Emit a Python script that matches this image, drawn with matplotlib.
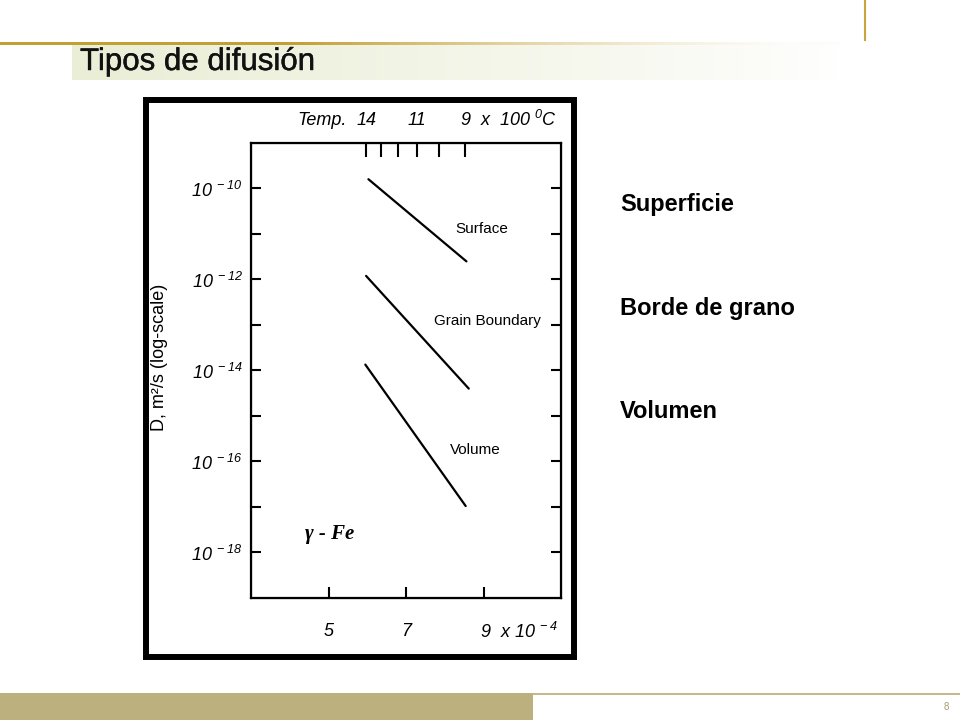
import numpy as np
import matplotlib
matplotlib.use('Agg')
import matplotlib.pyplot as plt
import matplotlib.patheffects as pe
from matplotlib.patches import Rectangle
from matplotlib.lines import Line2D
from matplotlib.ticker import FixedLocator, NullLocator

plt.rcParams['font.family'] = ['Liberation Sans', 'DejaVu Sans']
# all mathtext on this chart is the italic tick lettering of the scan
plt.rcParams['mathtext.fontset'] = 'custom'
plt.rcParams['mathtext.rm'] = 'Liberation Sans:italic'
plt.rcParams['mathtext.it'] = 'Liberation Sans:italic'

# x = 1/T in units of 1e-4 K^-1, D in m2/s
surface_x = [6.03, 8.56]
surface_D = [1.6e-10, 2.5e-12]
gb_x = [5.97, 8.62]
gb_D = [1.2e-12, 4.0e-15]
volume_x = [5.95, 8.54]
volume_D = [1.35e-14, 1.05e-17]

series_names = ['Surface', 'Grain Boundary', 'Volume']
side_labels = ['Superficie', 'Borde de grano', 'Volumen']

ytick_exp = list(range(-10, -19, -1))
ylabel_exp = [-10, -12, -14, -16, -18]
xtick_vals = [5, 7, 9]
temp_ticks_C = [1400, 1300, 1200, 1100, 1000, 900]
temp_labels = {1400: '14', 1100: '11'}

W, H = 960, 720


def fx(px):
    return px / W


def fy(py):
    return 1 - py / H


fig = plt.figure(figsize=(9.6, 7.2), dpi=100)

# slide decoration
fig.add_artist(Line2D([fx(865), fx(865)], [fy(0), fy(40)], transform=fig.transFigure,
                      color='#c9a43c', lw=1.5))

t = np.linspace(0, 1, 300)
gold = np.array([196, 160, 52]) / 255
a = np.where(t < 0.35, 1.0, np.clip(1 - (t - 0.35) / 0.65, 0.08, 1) ** 1.5)
grad = gold[None, :] * a[:, None] + (1 - a[:, None])
ax_g = fig.add_axes([0, fy(45), fx(840), 3 / H])
ax_g.imshow(grad[None, :, :], aspect='auto')
ax_g.axis('off')

band = np.array([234, 238, 214]) / 255
a2 = np.clip(1 - t, 0, 1) ** 0.8
grad2 = band[None, :] * a2[:, None] + (1 - a2[:, None])
ax_t = fig.add_axes([fx(72), fy(80), fx(840 - 72), 35 / H])
ax_t.imshow(grad2[None, :, :], aspect='auto')
ax_t.axis('off')

fig.text(fx(80), fy(62), 'Tipos de difusión', fontsize=22.5, va='center', color='#111111',
         path_effects=[pe.withStroke(linewidth=0.3, foreground='#111111')])

fig.add_artist(Rectangle((0, 0), fx(533), 27 / H, transform=fig.transFigure,
                         color='#bdb07f', lw=0))
fig.add_artist(Rectangle((fx(533), fy(695)), fx(427), 2 / H, transform=fig.transFigure,
                         color='#c4b98c', lw=0))
fig.text(fx(946), fy(707), '8', fontsize=7, color='#a89c70', ha='center', va='center')

# black frame around the scanned figure
fig.add_artist(Rectangle((fx(146), fy(657)), fx(574 - 146), (657 - 100) / H,
                         transform=fig.transFigure, fill=False, lw=4.3, edgecolor='black'))

# chart
ax = fig.add_axes([fx(251), fy(598), fx(310), 455 / H])
ax.set_yscale('log')
ax.set_xlim(3, 11)
ax.set_ylim(1e-19, 1e-9)

for xs, ds in [(surface_x, surface_D), (gb_x, gb_D), (volume_x, volume_D)]:
    ax.plot(xs, ds, color='black', lw=1.6, solid_capstyle='round')

for sp in ax.spines.values():
    sp.set_linewidth(1.6)

ax.yaxis.set_major_locator(FixedLocator([10.0 ** e for e in ytick_exp]))
ax.yaxis.set_minor_locator(NullLocator())
ax.set_yticklabels([r'$10^{\ -%d}$' % (-e) if e in ylabel_exp else '' for e in ytick_exp],
                   fontsize=13)
ax.tick_params(axis='y', which='major', direction='in', length=7, width=1.5,
               left=True, right=True, pad=6)

ax.set_xticks(xtick_vals)
ax.set_xticklabels(['5', '7', ''], fontsize=13, fontstyle='italic')
ax.tick_params(axis='x', direction='in', length=8, width=1.5, pad=18)
ax.text(8.91, -0.075, r'$9\ \ x\ 10^{\ -4}$', transform=ax.get_xaxis_transform(),
        ha='left', va='center', fontsize=13)

ax2 = ax.twiny()
ax2.set_xlim(3, 11)
ax2.set_xticks([1e4 / (tc + 273) for tc in temp_ticks_C])
ax2.set_xticklabels([])
ax2.tick_params(axis='x', direction='in', length=10, width=1.5)

xf = ax.get_xaxis_transform()
ax.text(5.48, 1.05, 'Temp.', transform=xf, ha='right', va='center', fontsize=13, fontstyle='italic')
for tc, lab in temp_labels.items():
    ax.text(1e4 / (tc + 273), 1.05, lab, transform=xf, ha='center', va='center',
            fontsize=13, fontstyle='italic')
ax.text(1e4 / (900 + 273) - 0.12, 1.05, r'$9\ \ x\ \ 100\ ^{0}C$', transform=xf,
        ha='left', va='center', fontsize=13)

label_pos = [(8.96, 10 ** -10.88), (9.09, 10 ** -12.92), (8.78, 10 ** -15.74)]
for name, (lx, ly) in zip(series_names, label_pos):
    ax.text(lx, ly, name, ha='center', va='center', fontsize=11)

ax.text(5.04, 10 ** -17.6, 'γ - Fe', ha='center', va='center', fontsize=15,
        family='Liberation Serif', fontweight='bold', fontstyle='italic')

fig.text(fx(160), fy(357), 'D, m²/s (log-scale)', rotation=90, ha='center', va='center',
         fontsize=13)

for lab, py in zip(side_labels, [204, 309, 412]):
    fig.text(fx(620), fy(py), lab, fontsize=17, fontweight='bold', va='center')

fig.savefig('out.png', dpi=100)
